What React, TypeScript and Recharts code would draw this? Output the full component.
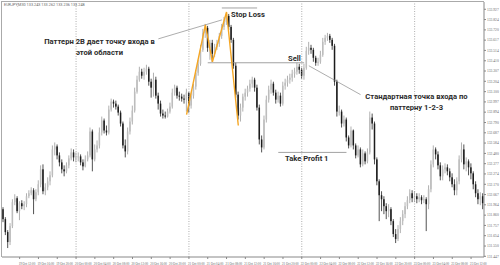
import { ComposedChart, Bar, Line, XAxis, YAxis, ReferenceLine } from 'recharts';

// EURJPY M30, close / high / low of each bar (open = previous close)
const closes = [
    131.82, 131.69, 131.59, 131.75, 131.99, 132.03, 131.9, 131.98, 131.95, 131.97,
    132.05, 132.08, 132.11, 132.02, 132.09, 132.17, 132.32, 132.1, 132.14, 132.2,
    132.26, 132.52, 132.55, 132.46, 132.39, 132.32, 132.3, 132.36, 132.43, 132.49,
    132.44, 132.44, 132.45, 132.39, 132.35, 132.42, 132.46, 132.7, 132.42, 132.52,
    132.56, 132.69, 132.81, 132.71, 132.69, 132.92, 133.0, 132.98, 132.95, 132.89,
    132.78, 132.56, 132.5, 132.7, 132.8, 132.91, 133.1, 133.22, 133.3, 133.26,
    133.3, 133.33, 133.2, 133.14, 133.22, 133.06, 132.98, 132.88, 132.86, 132.85,
    132.9, 132.95, 133.09, 133.14, 133.06, 133.05, 133.03, 133.02, 133.09, 132.96,
    133.06, 133.15, 133.29, 133.38, 133.52, 133.69, 133.74, 133.54, 133.59, 133.48,
    133.55, 133.58, 133.66, 133.75, 133.8, 133.86, 133.75, 133.62, 133.36, 133.07,
    132.86, 132.94, 133.05, 133.09, 133.13, 133.18, 133.22, 133.14, 132.94, 132.62,
    132.54, 132.82, 133.02, 133.12, 133.18, 133.09, 133.02, 133.06, 132.98, 133.16,
    133.19, 133.22, 133.24, 133.28, 133.3, 133.35, 133.32, 133.26, 133.34, 133.51,
    133.54, 133.52, 133.44, 133.39, 133.4, 133.47, 133.6, 133.64, 133.66, 133.62,
    133.56, 133.2, 132.9, 132.9, 132.78, 132.82, 132.64, 132.56, 132.71, 132.56,
    132.46, 132.52, 132.37, 132.48, 132.4, 132.49, 132.84, 132.78, 132.42, 132.2,
    132.06, 132.02, 131.95, 131.9, 131.92, 131.8, 131.67, 131.62, 131.72, 131.8,
    131.87, 131.95, 132.01, 132.08, 132.03, 132.05, 132.02, 132.04, 132.01, 132.02,
    131.97, 132.12, 132.37, 132.52, 132.47, 132.36, 132.25, 132.32, 132.34, 132.3,
    132.24, 132.17, 132.11, 132.2, 132.42, 132.52, 132.37, 132.4, 132.34, 132.28,
    132.17, 132.08, 132.02, 132.05, 131.98
];
const highs = [
    131.94, 131.84, 131.71, 131.78, 132.02, 132.07, 132.05, 132.0, 132.01, 132.0,
    132.08, 132.11, 132.14, 132.13, 132.12, 132.21, 132.36, 132.37, 132.18, 132.24,
    132.3, 132.56, 132.59, 132.57, 132.49, 132.42, 132.36, 132.39, 132.46, 132.53,
    132.52, 132.49, 132.49, 132.47, 132.42, 132.46, 132.5, 132.74, 132.72, 132.57,
    132.61, 132.74, 132.85, 132.83, 132.76, 132.96, 133.03, 133.02, 133.01, 132.97,
    132.91, 132.8, 132.62, 132.74, 132.84, 132.96, 133.14, 133.26, 133.35, 133.33,
    133.34, 133.37, 133.35, 133.23, 133.29, 133.25, 133.09, 133.01, 132.92, 132.9,
    132.93, 132.99, 133.13, 133.17, 133.16, 133.1, 133.08, 133.07, 133.13, 133.04,
    133.09, 133.18, 133.32, 133.42, 133.57, 133.73, 133.78, 133.76, 133.62, 133.62,
    133.58, 133.62, 133.69, 133.78, 133.85, 133.89, 133.88, 133.77, 133.64, 133.39,
    133.1, 132.98, 133.08, 133.13, 133.16, 133.22, 133.25, 133.24, 133.17, 132.97,
    132.66, 132.86, 133.06, 133.16, 133.22, 133.2, 133.12, 133.1, 133.09, 133.2,
    133.23, 133.26, 133.28, 133.32, 133.34, 133.39, 133.38, 133.34, 133.38, 133.55,
    133.6, 133.57, 133.54, 133.46, 133.44, 133.51, 133.64, 133.67, 133.69, 133.68,
    133.64, 133.58, 133.22, 132.96, 132.92, 132.86, 132.84, 132.66, 132.75, 132.72,
    132.58, 132.56, 132.54, 132.52, 132.5, 132.53, 132.9, 132.88, 132.8, 132.44,
    132.22, 132.1, 132.05, 131.98, 131.97, 131.94, 131.82, 131.72, 131.76, 131.84,
    131.91, 131.99, 132.05, 132.12, 132.11, 132.1, 132.08, 132.08, 132.06, 132.06,
    132.04, 132.16, 132.41, 132.56, 132.54, 132.5, 132.39, 132.36, 132.38, 132.37,
    132.33, 132.28, 132.22, 132.24, 132.46, 132.59, 132.57, 132.44, 132.42, 132.38,
    132.3, 132.2, 132.12, 132.09, 132.08
];
const lows = [
    131.79, 131.66, 131.53, 131.56, 131.73, 131.96, 131.88, 131.81, 131.92, 131.91,
    131.94, 132.03, 132.06, 131.87, 132.0, 132.06, 132.14, 132.07, 132.06, 132.11,
    132.16, 132.24, 132.46, 132.42, 132.35, 132.28, 132.25, 132.28, 132.33, 132.41,
    132.4, 132.39, 132.4, 132.36, 132.31, 132.34, 132.4, 132.44, 132.3, 132.4,
    132.49, 132.53, 132.66, 132.68, 132.66, 132.67, 132.9, 132.94, 132.92, 132.86,
    132.75, 132.53, 132.44, 132.47, 132.67, 132.77, 132.89, 133.08, 133.2, 133.23,
    133.22, 133.27, 133.16, 133.04, 133.05, 133.03, 132.92, 132.85, 132.83, 132.83,
    132.84, 132.88, 132.93, 133.06, 133.03, 133.01, 133.0, 132.98, 132.9, 132.89,
    132.93, 133.03, 133.12, 133.26, 133.36, 133.5, 133.64, 133.5, 133.42, 133.4,
    133.45, 133.52, 133.55, 133.63, 133.72, 133.77, 133.72, 133.59, 133.33, 133.04,
    132.82, 132.8, 132.9, 133.01, 133.05, 133.1, 133.14, 133.1, 132.91, 132.57,
    132.49, 132.52, 132.79, 132.99, 133.08, 133.06, 132.98, 132.99, 132.95, 132.96,
    133.12, 133.15, 133.18, 133.2, 133.24, 133.27, 133.28, 133.23, 133.22, 133.32,
    133.47, 133.48, 133.4, 133.36, 133.36, 133.38, 133.45, 133.57, 133.61, 133.59,
    133.52, 133.16, 132.85, 132.86, 132.74, 132.75, 132.6, 132.53, 132.54, 132.52,
    132.43, 132.44, 132.34, 132.35, 132.37, 132.38, 132.47, 132.72, 132.37, 132.16,
    131.8, 131.9, 131.87, 131.82, 131.84, 131.76, 131.64, 131.58, 131.6, 131.68,
    131.76, 131.83, 131.92, 131.98, 131.99, 131.99, 131.98, 131.99, 131.97, 131.98,
    131.7, 131.92, 132.09, 132.34, 132.42, 132.32, 132.21, 132.21, 132.28, 132.26,
    132.2, 132.14, 132.06, 132.06, 132.17, 132.39, 132.32, 132.3, 132.26, 132.22,
    132.12, 132.04, 131.97, 131.96, 131.92
];
const firstOpen = 131.92;

// orange 2B zigzag (bar index, price)
const zigzagBars = [78, 86, 89, 95, 100];
const zigzagPrices = [132.87, 133.77, 133.4, 133.9, 132.76];

// day separators (bar index)
const daySeparators = [31, 79, 127, 175];

// annotation levels
const stopLoss = 133.94;
const sellLevel = 133.39;
const takeProfit = 132.49;

const priceTicks = [
    133.927, 133.824, 133.72, 133.617, 133.514, 133.41, 133.307, 133.204, 133.1,
    132.997, 132.894, 132.79, 132.687, 132.584, 132.48, 132.377, 132.274, 132.17,
    132.067, 131.964, 131.86, 131.757, 131.654, 131.55, 131.447
];

const pad = (n: number) => (n < 10 ? '0' + n : '' + n);
// bar 0 = 19 Oct 08:30, M30
const times = closes.map((_, i) => {
    const m = 8 * 60 + 30 + i * 30;
    const day = 19 + Math.floor(m / 1440);
    const mm = m % 1440;
    return `${day} Oct ${pad(Math.floor(mm / 60))}:${pad(mm % 60)}`;
});
const timeTicks = times.filter((_, i) => i % 8 === 7);

const rows = closes.map((c, i) => {
    const o = i === 0 ? firstOpen : closes[i - 1];
    const hi = Math.max(highs[i], o, c);
    const lo = Math.min(lows[i], o, c);
    const z = zigzagBars.indexOf(i);
    return { t: times[i], o, c, hi, lo, range: [lo, hi], zz: z >= 0 ? zigzagPrices[z] : null };
});

function Candle(props: any) {
    const { x, y, width, height, payload } = props;
    const { o, c, hi, lo } = payload;
    const span = hi - lo || 1;
    const py = (v: number) => y + ((hi - v) / span) * height;
    const up = c >= o;
    const cx = x + width / 2;
    const top = py(Math.max(o, c));
    const bot = py(Math.min(o, c));
    const bw = Math.max(1.2, width - 0.5);
    return (
        <g>
            <line x1={cx} x2={cx} y1={y} y2={y + height} stroke={up ? '#9c9c9c' : '#262626'} strokeWidth={0.8} />
            <rect x={cx - bw / 2} y={top} width={bw} height={Math.max(0.8, bot - top)} fill={up ? '#bdbdbd' : '#1c1c1c'} />
        </g>
    );
}

const TimeTick = ({ x, y, payload }: any) => (
    <text x={x - 1} y={y + 3.5} fontSize={3.2} fill='#666' textAnchor='start'>
        {payload.value}
    </text>
);

const textStyle: any = {
    position: 'absolute',
    fontFamily: 'Roboto, sans-serif',
    fontWeight: 700,
    fontSize: 7.6,
    lineHeight: '10.5px',
    color: '#2b2b2b',
    whiteSpace: 'nowrap'
};

export default function App() {
    return (
        <div style={{ position: 'absolute', left: 0, top: 0, width: 500, height: 265, background: '#fff', overflow: 'hidden' }}>
            <ComposedChart
                width={500}
                height={265}
                data={rows}
                margin={{ top: 2, right: 0, bottom: 0, left: 2 }}
                barCategoryGap={0}
                barGap={0}
            >
                <XAxis
                    dataKey='t'
                    ticks={timeTicks}
                    interval={0}
                    height={8}
                    tickSize={2}
                    tick={<TimeTick />}
                    stroke='#888'
                />
                <YAxis
                    orientation='right'
                    width={16}
                    domain={[131.44, 134.0]}
                    allowDataOverflow
                    ticks={priceTicks}
                    interval={0}
                    tickSize={2}
                    tickMargin={1}
                    tickFormatter={(v: number) => v.toFixed(3)}
                    tick={{ fontSize: 3.6, fill: '#666', textAnchor: 'start' }}
                    stroke='#888'
                />
                {daySeparators.map(i => (
                    <ReferenceLine key={i} x={times[i]} stroke='#999' strokeDasharray='1 1.5' strokeWidth={0.8} />
                ))}
                <ReferenceLine segment={[{ x: times[93], y: stopLoss }, { x: times[108], y: stopLoss }]} stroke='#8a8a8a' strokeWidth={0.8} />
                <ReferenceLine segment={[{ x: times[87], y: sellLevel }, { x: times[128], y: sellLevel }]} stroke='#8a8a8a' strokeWidth={0.8} />
                <ReferenceLine segment={[{ x: times[117], y: takeProfit }, { x: times[146], y: takeProfit }]} stroke='#8a8a8a' strokeWidth={0.8} />
                <ReferenceLine segment={[{ x: times[66], y: 133.63 }, { x: times[93], y: 133.82 }]} stroke='#8a8a8a' strokeWidth={0.7} />
                <ReferenceLine segment={[{ x: times[130], y: 133.36 }, { x: times[152], y: 133.07 }]} stroke='#8a8a8a' strokeWidth={0.7} />
                <Bar dataKey='range' shape={<Candle />} isAnimationActive={false} />
                <Line
                    dataKey='zz'
                    stroke='#f5a623'
                    strokeWidth={1.4}
                    dot={false}
                    connectNulls
                    isAnimationActive={false}
                />
            </ComposedChart>
            <div style={{ position: 'absolute', left: 1, top: 1, width: 483, height: 256, borderLeft: '1px solid #aaa', borderTop: '1px solid #aaa', boxSizing: 'border-box', pointerEvents: 'none' }} />
            <div style={{ position: 'absolute', left: 4, top: 2, fontFamily: 'Roboto, sans-serif', fontSize: 3.8, color: '#666', whiteSpace: 'nowrap' }}>
                EURJPY,M30 133.243 133.262 133.236 133.248
            </div>
            <div style={{ ...textStyle, left: 99.5, top: 37, transform: 'translateX(-50%)', textAlign: 'center' }}>
                Паттерн 2B дает точку входа в
                <br />
                этой области
            </div>
            <div style={{ ...textStyle, left: 231, top: 10 }}>Stop Loss</div>
            <div style={{ ...textStyle, left: 288, top: 54 }}>Sell</div>
            <div style={{ ...textStyle, left: 416.5, top: 92, transform: 'translateX(-50%)', textAlign: 'center' }}>
                Стандартная точка входа по
                <br />
                паттерну 1-2-3
            </div>
            <div style={{ ...textStyle, left: 285, top: 154 }}>Take Profit 1</div>
        </div>
    );
}
